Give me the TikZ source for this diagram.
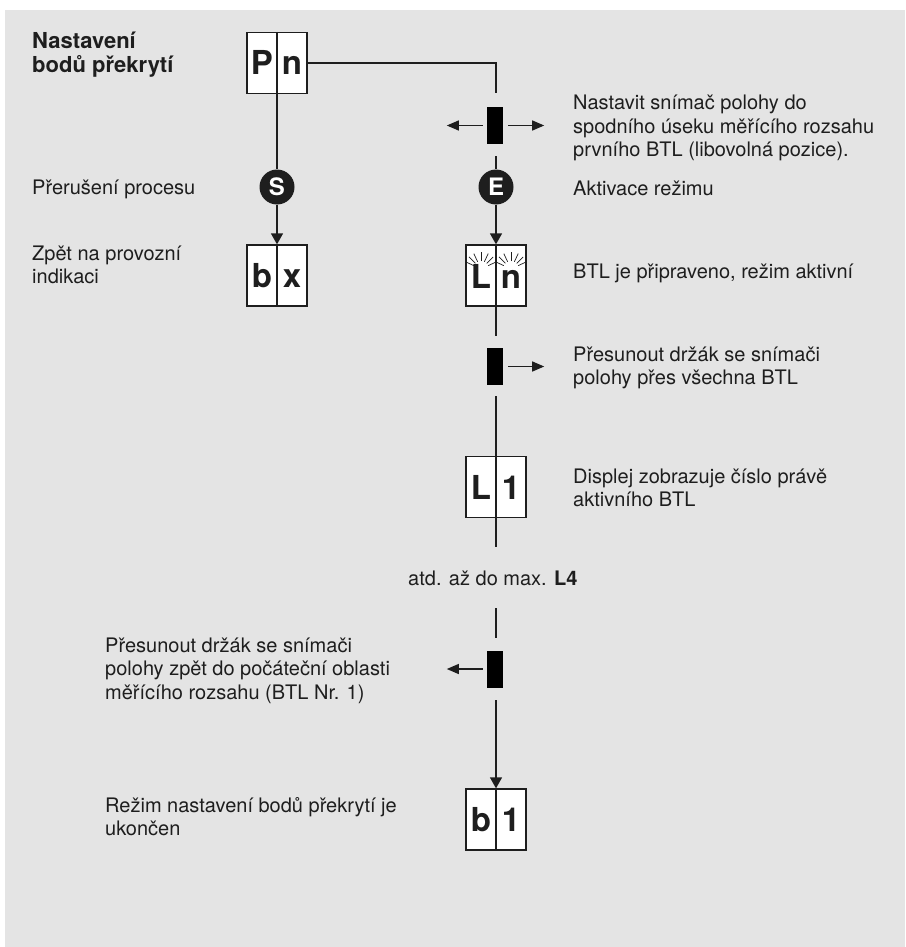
\documentclass[tikz,border=0pt]{standalone}
\usepackage{fontspec}
\setmainfont{TeX Gyre Heros}
\usetikzlibrary{arrows.meta,calc}
\definecolor{bg}{HTML}{E4E4E4}
\definecolor{ink}{HTML}{1E1E1E}
\newcommand{\mlines}[1]{\begin{tabular}[t]{@{}l@{}}#1\end{tabular}}
\begin{document}
\begin{tikzpicture}[x=1pt,y=-1pt,
  conn/.style={draw=ink,line width=1.3pt},
  arr/.style={conn,-{Triangle[length=11pt,width=12pt]}},
  harr/.style={conn,-{Triangle[length=12pt,width=10pt]}},
  dispbox/.style={draw=ink,line width=1.3pt,fill=white,minimum width=60pt,minimum height=61pt,inner sep=0pt},
  dlet/.style={anchor=base,font=\fontsize{33}{33}\selectfont\bfseries,text=ink,inner sep=0pt},
  keycirc/.style={circle,fill=ink,minimum size=35pt,inner sep=0pt,text=white,font=\fontsize{24}{24}\selectfont\bfseries},
  sensor/.style={fill=black,minimum width=16pt,minimum height=37pt,inner sep=0pt},
  txt/.style={anchor=base west,inner sep=0pt,font=\fontsize{20}{23.5}\selectfont,text=ink},
  ttl/.style={txt,font=\fontsize{22}{23}\selectfont\bfseries},
  ray/.style={draw=ink,line width=0.7pt},
]
\useasboundingbox (0,0) rectangle (905,947);
\fill[bg] (5,10) rectangle (905,947);

% display boxes
\node[dispbox] (pn) at (277,63) {};
\node[dispbox] (bx) at (277,275.5) {};
\node[dispbox] (ln) at (496,275.5) {};
\node[dispbox] (l1) at (496,487) {};
\node[dispbox] (b1) at (496,819.5) {};
\draw[conn] (pn.north) -- (pn.south);
\draw[conn] (bx.north) -- (bx.south);
\draw[conn] (b1.north) -- (b1.south);
\node[dlet] (pnP) at (262,75) {P};
\node[dlet] (pnN) at (292,75) {n};
\node[dlet] (bxB) at (262,287.5) {b};
\node[dlet] (bxX) at (292,287.5) {x};
\node[dlet] (lnL) at (481,288) {L};
\node[dlet] (lnN) at (511,288) {n};
\node[dlet] (l1L) at (481,499) {L};
\node[dlet] (l1O) at (511,499) {1};
\node[dlet] (b1B) at (481,831.5) {b};
\node[dlet] (b1O) at (511,831.5) {1};
% rays
\foreach \cx in {481,511}{
  \foreach \a in {-25,-45,-65,-90,-115,-135,-155}{
    \draw[ray] ($(\cx,269)+(\a:8)$) -- ($(\cx,269)+(\a:17)$);
  }
}

% keys
\node[keycirc] (S) at (277,187) {S};
\node[keycirc] (E) at (496,187) {E};

% sensors
\node[sensor] (s1) at (495,125.5) {};
\node[sensor] (s2) at (495,366.5) {};
\node[sensor] (s3) at (495,669) {};

% connectors
\coordinate (c1) at (496,93);
\coordinate (c2) at (496,156);
\coordinate (c3) at (496,336);
\coordinate (c4) at (496,396);
\coordinate (c5) at (496,547);
\coordinate (c6) at (496,608);
\coordinate (c7) at (496,638);
\coordinate (c8) at (496,700);
\draw[conn] (pn.east) -| (c1);
\draw[conn] (c2) -- (E.north);
\draw[conn] (pn.south) -- (S.north);
\draw[arr] (S.south) -- (bx.north);
\draw[arr] (E.south) -- (ln.north);
\draw[conn] (ln.north) -- (c3);
\draw[conn] (c4) -- (c5);
\draw[conn] (c6) -- (c7);
\draw[arr] (c8) -- (b1.north);

% sensor arrows
\draw[harr] ([xshift=-4pt]s1.west) -- ++(-36,0);
\draw[harr] ([xshift=5pt]s1.east) -- ++(36,0);
\draw[harr] ([xshift=5pt]s2.east) -- ++(36,0);
\draw[harr] ([xshift=-4pt]s3.west) -- ++(-36,0);

% texts
\node[ttl] (title) at (32,49) {\mlines{Nastavení\\bodů překrytí}};
\node[txt] (t1) at (32,194) {Přerušení procesu};
\node[txt] (t2) at (32,260) {\mlines{Zpět na provozní\\indikaci}};
\node[txt] (t3) at (573,110) {\mlines{Nastavit snímač polohy do\\spodního úseku měřícího rozsahu\\prvního BTL (libovolná pozice).}};
\node[txt] (t4) at (573,195) {Aktivace režimu};
\node[txt] (t5) at (573,278) {BTL je připraveno, režim aktivní};
\node[txt] (t6) at (573,361) {\mlines{Přesunout držák se snímači\\polohy přes všechna BTL}};
\node[txt] (t7) at (573,483) {\mlines{Displej zobrazuje číslo právě\\aktivního BTL}};
\node[txt] (t8) at (408,585) {atd. až do max. \textbf{L4}};
\node[txt] (t9) at (105,652) {\mlines{Přesunout držák se snímači\\polohy zpět do počáteční oblasti\\měřícího rozsahu (BTL Nr. 1)}};
\node[txt] (t10) at (105,812) {\mlines{Režim nastavení bodů překrytí je\\ukončen}};
\end{tikzpicture}
\end{document}
